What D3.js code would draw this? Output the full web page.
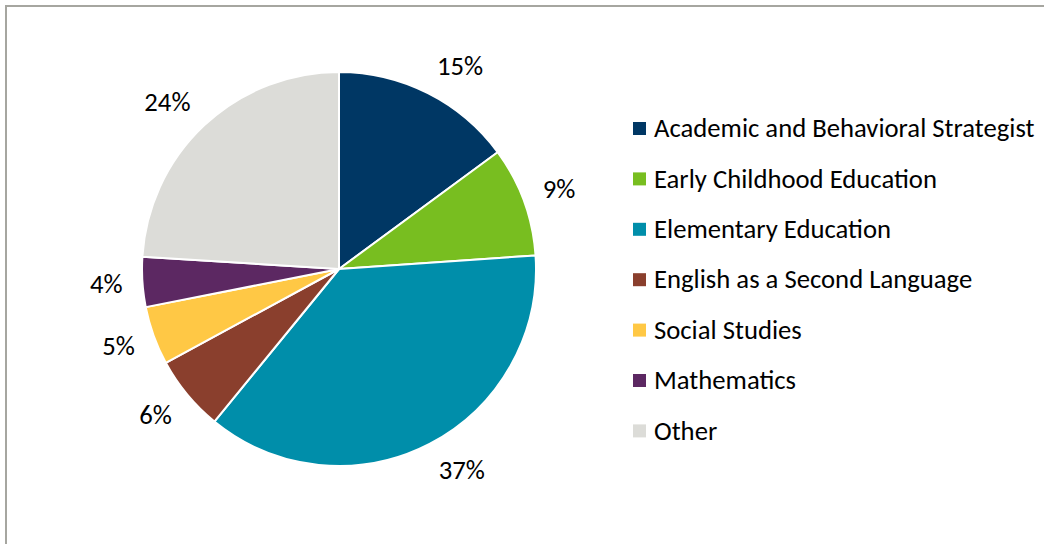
<!DOCTYPE html>
<html>
<head>
<meta charset="utf-8">
<script src="https://cdn.jsdelivr.net/npm/d3@7"></script>
<style>
	html, body { margin: 0; padding: 0; background: #fff; }
	svg { display: block; }
	text { font-family: Calibri, Carlito, "Open Sans", sans-serif; fill: #000; }
</style>
</head>
<body>
<svg id="svg_pie" width="1044" height="544"></svg>
<script>
// slice order: clockwise from 12 o'clock
var categories = ["Academic and Behavioral Strategist", "Early Childhood Education", "Elementary Education",
	"English as a Second Language", "Social Studies", "Mathematics", "Other"];
var shares = [14.9, 9.0, 37.0, 6.2, 4.8, 4.1, 24.0];
var colors = ["#003764", "#78be20", "#008eaa", "#8a3f2d", "#ffc845", "#5c2862", "#dcdcd8"];

var svg = d3.select("#svg_pie"),
	width = +svg.attr("width"),
	height = +svg.attr("height");

// chart frame, right and bottom edges run off the picture
svg.append("rect")
	.attr("x", 6).attr("y", 6)
	.attr("width", width + 20).attr("height", height + 20)
	.attr("fill", "none")
	.attr("stroke", "#a6a6a0")
	.attr("stroke-width", 2);

var cx = 339, cy = 269, radius = 197;
var fontSize = 26.7,
	capH = fontSize * 0.644;

var data = categories.map(function(c, i) {
	return { "name": c, "value": shares[i], "color": colors[i] };
});

var pie = d3.pie()
	.sort(null)
	.value(function(d) { return d.value; });
var arc = d3.arc().innerRadius(0).outerRadius(radius);

var g_pie = svg.append("g").attr("transform", "translate(" + cx + "," + cy + ")");
var arcs = pie(data);

g_pie.selectAll("path").data(arcs).enter()
	.append("path")
	.attr("d", arc)
	.attr("fill", function(d) { return d.data.color; })
	.attr("stroke", "#fff")
	.attr("stroke-width", 2)
	.attr("stroke-linejoin", "round");

// percent labels just outside the rim, corner nearest the pie sits on the ray
var clamp = function(v) { return Math.max(-1, Math.min(1, v)); };
var lbl = g_pie.selectAll("text.pct").data(arcs).enter()
	.append("text")
	.attr("class", "pct")
	.attr("font-size", fontSize)
	.attr("text-anchor", "middle")
	.text(function(d) { return Math.round(d.data.value) + "%"; });

lbl.each(function(d) {
	var a = (d.startAngle + d.endAngle) / 2,
		w = this.getComputedTextLength(),
		r = radius + 20,
		x = Math.sin(a) * r + clamp(Math.sin(a) * 2.5) * w / 2,
		y = -Math.cos(a) * r - clamp(Math.cos(a) * 1.5) * capH / 2;
	d3.select(this).attr("x", x).attr("y", y + capH / 2);
});

// legend
var legendX = 633, legendY = 128.5, legendStep = 50.4, sw = 13;
var g_legend = svg.append("g").attr("id", "legend");
var item = g_legend.selectAll("g").data(data).enter()
	.append("g")
	.attr("transform", function(d, i) {
		return "translate(" + legendX + "," + (legendY + i * legendStep) + ")";
	});
item.append("rect")
	.attr("x", 0).attr("y", -sw / 2)
	.attr("width", sw).attr("height", sw)
	.attr("fill", function(d) { return d.color; });
item.append("text")
	.attr("x", 21)
	.attr("y", capH / 2)
	.attr("font-size", fontSize)
	.text(function(d) { return d.name; });
</script>
</body>
</html>
